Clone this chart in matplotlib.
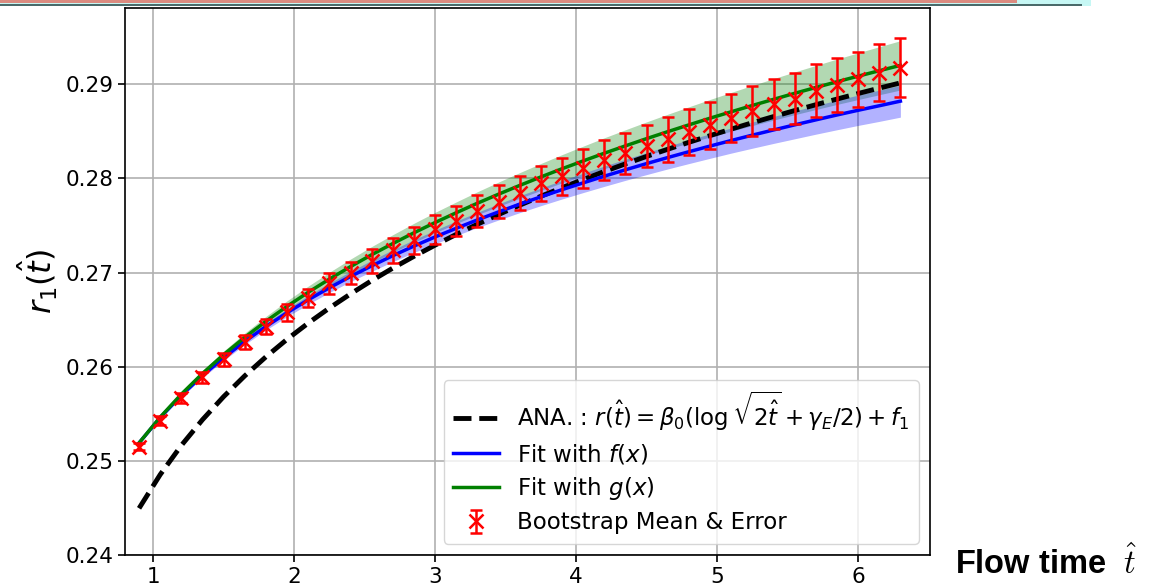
"""Bootstrap r_1(t) against flow time, with the two fits and the analytic curve."""

from __future__ import annotations

import matplotlib

matplotlib.use("Agg")
import matplotlib.pyplot as plt
from matplotlib.patches import Rectangle


FIGURE_PATH = "out.png"

# flow time points
FLOW_TIME = [
    0.90, 1.05, 1.20, 1.35, 1.50, 1.65, 1.80, 1.95, 2.10, 2.25,
    2.40, 2.55, 2.70, 2.85, 3.00, 3.15, 3.30, 3.45, 3.60, 3.75,
    3.90, 4.05, 4.20, 4.35, 4.50, 4.65, 4.80, 4.95, 5.10, 5.25,
    5.40, 5.55, 5.70, 5.85, 6.00, 6.15, 6.30,
]

# bootstrap mean and error
BOOT_MEAN = [
    0.25150, 0.25426, 0.25670, 0.25886, 0.26077, 0.26265, 0.26424, 0.26576, 0.26725, 0.26884,
    0.26997, 0.27121, 0.27238, 0.27344, 0.27457, 0.27549, 0.27652, 0.27750, 0.27846, 0.27946,
    0.28024, 0.28105, 0.28193, 0.28264, 0.28342, 0.28413, 0.28490, 0.28565, 0.28636, 0.28717,
    0.28788, 0.28848, 0.28929, 0.28989, 0.29050, 0.29120, 0.29177,
]
BOOT_ERR = [
    0.00040, 0.00045, 0.00052, 0.00060, 0.00068, 0.00074, 0.00080, 0.00088, 0.00095, 0.00110,
    0.00118, 0.00125, 0.00133, 0.00142, 0.00152, 0.00160, 0.00168, 0.00176, 0.00183, 0.00190,
    0.00196, 0.00203, 0.00210, 0.00218, 0.00226, 0.00234, 0.00242, 0.00248, 0.00255, 0.00262,
    0.00268, 0.00276, 0.00282, 0.00289, 0.00296, 0.00303, 0.00310,
]

# analytic curve
ANA_CURVE = [
    0.24496, 0.24854, 0.25164, 0.25437, 0.25682, 0.25903, 0.26105, 0.26291, 0.26463, 0.26623,
    0.26773, 0.26914, 0.27047, 0.27172, 0.27291, 0.27405, 0.27513, 0.27616, 0.27715, 0.27810,
    0.27901, 0.27988, 0.28073, 0.28154, 0.28233, 0.28309, 0.28383, 0.28454, 0.28523, 0.28591,
    0.28656, 0.28720, 0.28782, 0.28842, 0.28901, 0.28958, 0.29014,
]

# fit with f(x): central curve and band half width
FIT_F = [
    0.25190, 0.25460, 0.25696, 0.25906, 0.26095, 0.26268, 0.26427, 0.26573, 0.26710, 0.26838,
    0.26958, 0.27071, 0.27179, 0.27281, 0.27378, 0.27470, 0.27559, 0.27644, 0.27726, 0.27804,
    0.27880, 0.27952, 0.28023, 0.28091, 0.28157, 0.28221, 0.28283, 0.28343, 0.28402, 0.28459,
    0.28514, 0.28568, 0.28621, 0.28673, 0.28723, 0.28771, 0.28820,
]
FIT_F_ERR = [
    0.00010, 0.00014, 0.00019, 0.00023, 0.00028, 0.00032, 0.00037, 0.00041, 0.00046, 0.00050,
    0.00054, 0.00059, 0.00063, 0.00068, 0.00072, 0.00077, 0.00081, 0.00086, 0.00090, 0.00094,
    0.00099, 0.00103, 0.00108, 0.00112, 0.00117, 0.00121, 0.00126, 0.00130, 0.00134, 0.00139,
    0.00143, 0.00148, 0.00152, 0.00157, 0.00161, 0.00166, 0.00170,
]

# fit with g(x): central curve and band half width
FIT_G = [
    0.25190, 0.25464, 0.25708, 0.25928, 0.26128, 0.26312, 0.26482, 0.26641, 0.26790, 0.26930,
    0.27063, 0.27189, 0.27308, 0.27422, 0.27531, 0.27635, 0.27736, 0.27832, 0.27925, 0.28015,
    0.28102, 0.28185, 0.28267, 0.28345, 0.28422, 0.28496, 0.28568, 0.28639, 0.28707, 0.28774,
    0.28839, 0.28903, 0.28965, 0.29026, 0.29085, 0.29143, 0.29200,
]
FIT_G_ERR = [
    0.00010, 0.00017, 0.00024, 0.00031, 0.00038, 0.00045, 0.00052, 0.00059, 0.00066, 0.00073,
    0.00080, 0.00087, 0.00094, 0.00101, 0.00108, 0.00115, 0.00122, 0.00129, 0.00136, 0.00143,
    0.00150, 0.00157, 0.00164, 0.00171, 0.00178, 0.00185, 0.00192, 0.00199, 0.00206, 0.00213,
    0.00220, 0.00227, 0.00234, 0.00241, 0.00248, 0.00255, 0.00262,
]

X_TICKS = [1, 2, 3, 4, 5, 6]
Y_TICKS = [0.24, 0.25, 0.26, 0.27, 0.28, 0.29]


def band(center: list[float], half: list[float], sign: int) -> list[float]:
    """center +- half を返す。"""
    return [c + sign * h for c, h in zip(center, half)]


def configure_axes(axes: plt.Axes) -> None:
    """目盛・グリッド・枠線。"""
    axes.grid(True, color="#b0b0b0", linewidth=1.2)
    axes.set_axisbelow(True)
    axes.set_xticks(X_TICKS)
    axes.set_yticks(Y_TICKS)
    axes.set_yticklabels([f"{v:.2f}" for v in Y_TICKS])
    axes.tick_params(labelsize=15.5, length=5, width=1.2)
    for spine in axes.spines.values():
        spine.set_linewidth(1.2)
    axes.set_xlim(0.80, 6.51)
    axes.set_ylim(0.24, 0.2981)


def add_top_strip(fig: plt.Figure) -> None:
    """スクリーンショット上端の帯。"""
    h = fig.get_figheight() * fig.dpi
    w = fig.get_figwidth() * fig.dpi
    fig.patches.append(Rectangle((0, 1 - 6 / h), 1091 / w, 6 / h, transform=fig.transFigure,
                                 facecolor="#c6f7f4", edgecolor="none", zorder=0))
    fig.patches.append(Rectangle((0, 1 - 5.5 / h), 1082 / w, 1.6 / h, transform=fig.transFigure,
                                 facecolor="#4a6a6a", edgecolor="none", zorder=1))
    fig.patches.append(Rectangle((0, 1 - 2.5 / h), 1017 / w, 2.5 / h, transform=fig.transFigure,
                                 facecolor="#ee3322", edgecolor="none", alpha=0.55, zorder=1))


def main() -> None:
    fig = plt.figure(figsize=(11.57, 5.87), dpi=100)
    axes = fig.add_axes([0.108, 0.0545, 0.6958, 0.932])
    configure_axes(axes)

    axes.fill_between(FLOW_TIME, band(FIT_G, FIT_G_ERR, -1), band(FIT_G, FIT_G_ERR, 1),
                      color="green", alpha=0.3, linewidth=0)
    axes.fill_between(FLOW_TIME, band(FIT_F, FIT_F_ERR, -1), band(FIT_F, FIT_F_ERR, 1),
                      color="blue", alpha=0.3, linewidth=0)

    axes.plot(FLOW_TIME, ANA_CURVE, "--", color="black", linewidth=3.5,
              label=r"ANA. : $r(\hat{t}) = \beta_0(\log\sqrt{2\hat{t}} + \gamma_E/2) + f_1$")
    axes.plot(FLOW_TIME, FIT_F, color="blue", linewidth=2.5, label=r"Fit with $f(x)$")
    axes.plot(FLOW_TIME, FIT_G, color="green", linewidth=2.5, label=r"Fit with $g(x)$")
    axes.errorbar(FLOW_TIME, BOOT_MEAN, yerr=BOOT_ERR, fmt="x", color="red", markersize=10,
                  markeredgewidth=1.8, elinewidth=1.8, capsize=4, capthick=1.8,
                  label="Bootstrap Mean & Error", zorder=5)

    axes.set_ylabel(r"$r_1(\hat{t})$", fontsize=23)
    axes.legend(loc="lower right", fontsize=16.5, borderpad=0.4, labelspacing=0.4,
                handlelength=2.0)

    fig.text(955 / 1157, 1 - 574 / 587, r"Flow time  $\hat{t}$", fontsize=23.5,
             family="Liberation Sans", weight="bold", math_fontfamily="cm",
             ha="left", va="baseline")
    add_top_strip(fig)

    fig.savefig(FIGURE_PATH, dpi=100)
    plt.close(fig)


if __name__ == "__main__":
    main()
